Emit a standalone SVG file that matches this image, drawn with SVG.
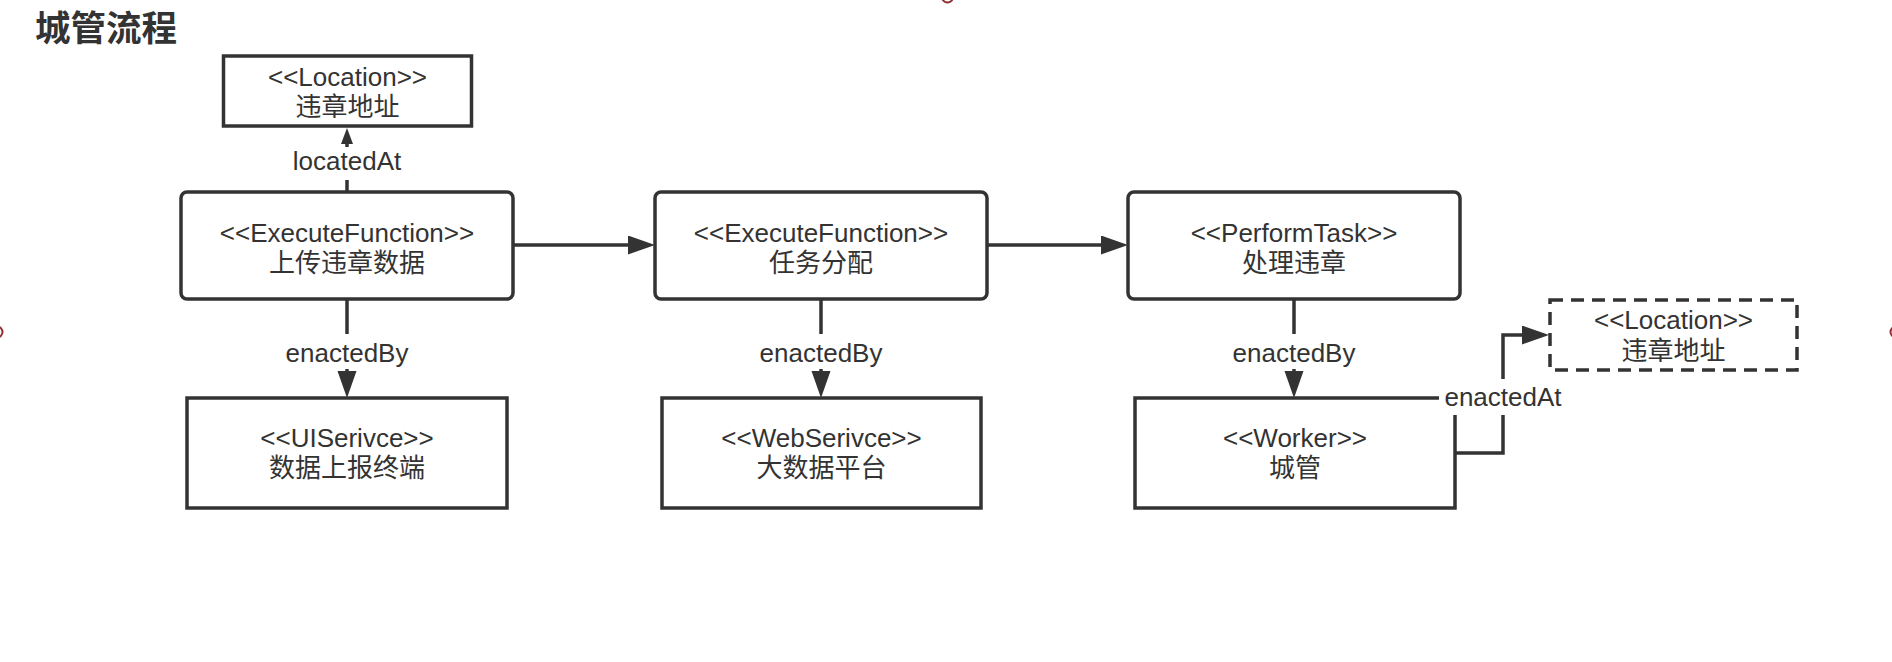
<svg xmlns="http://www.w3.org/2000/svg" width="1892" height="662" viewBox="0 0 1892 662">
  <style>
    .box { fill: #ffffff; stroke: #333333; stroke-width: 3.5; }
    .dash { fill: #ffffff; stroke: #333333; stroke-width: 3.5; stroke-dasharray: 13 8; }
    .t { font-family: "Liberation Sans", "Noto Sans CJK SC", sans-serif; font-size: 26px; fill: #333333; text-anchor: middle; }
    .title { font-family: "Noto Sans CJK SC", "Liberation Sans", sans-serif; font-size: 35.5px; font-weight: bold; fill: #333333; }
    .edge { fill: none; stroke: #333333; stroke-width: 3.5; }
    .lblbg { fill: #ffffff; stroke: none; }
    .mark { fill: none; stroke: #8e2f2f; stroke-width: 2; }
  </style>
  <defs>
    <marker id="arrow" markerUnits="userSpaceOnUse" markerWidth="28" markerHeight="20" refX="0" refY="9.5" orient="auto">
      <path d="M0,0 L27,9.5 L0,19 Z" fill="#333333"/>
    </marker>
    <marker id="arrowSmall" markerUnits="userSpaceOnUse" markerWidth="17" markerHeight="13" refX="0" refY="6" orient="auto">
      <path d="M0,0 L16,6 L0,12 Z" fill="#333333"/>
    </marker>
  </defs>
  <rect width="1892" height="662" fill="#ffffff"/>

  <text class="title" x="35" y="41">城管流程</text>

  <g id="connectors">
    <path class="edge" d="M347,192 V144" marker-end="url(#arrowSmall)"/>
    <path class="edge" d="M513,245 H628" marker-end="url(#arrow)"/>
    <path class="edge" d="M987,245 H1101" marker-end="url(#arrow)"/>
    <path class="edge" d="M347,299 V371" marker-end="url(#arrow)"/>
    <path class="edge" d="M821,299 V371" marker-end="url(#arrow)"/>
    <path class="edge" d="M1294,299 V371" marker-end="url(#arrow)"/>
    <path class="edge" d="M1455,453 H1503 V335 H1522" marker-end="url(#arrow)"/>
  </g>

  <g id="loc1">
    <rect class="box" x="223.5" y="56" width="248" height="70"/>
    <text class="t" x="347.5" y="86">&lt;&lt;Location&gt;&gt;</text>
    <text class="t" x="347.5" y="116">违章地址</text>
  </g>
  <g id="f1">
    <rect class="box" x="181" y="192" width="332" height="107" rx="6"/>
    <text class="t" x="347" y="242">&lt;&lt;ExecuteFunction&gt;&gt;</text>
    <text class="t" x="347" y="272">上传违章数据</text>
  </g>
  <g id="f2">
    <rect class="box" x="655" y="192" width="332" height="107" rx="6"/>
    <text class="t" x="821" y="242">&lt;&lt;ExecuteFunction&gt;&gt;</text>
    <text class="t" x="821" y="272">任务分配</text>
  </g>
  <g id="f3">
    <rect class="box" x="1128" y="192" width="332" height="107" rx="6"/>
    <text class="t" x="1294" y="242">&lt;&lt;PerformTask&gt;&gt;</text>
    <text class="t" x="1294" y="272">处理违章</text>
  </g>
  <g id="ui">
    <rect class="box" x="187" y="398" width="320" height="110"/>
    <text class="t" x="347" y="447">&lt;&lt;UISerivce&gt;&gt;</text>
    <text class="t" x="347" y="477">数据上报终端</text>
  </g>
  <g id="web">
    <rect class="box" x="662" y="398" width="319" height="110"/>
    <text class="t" x="821.5" y="447">&lt;&lt;WebSerivce&gt;&gt;</text>
    <text class="t" x="821.5" y="477">大数据平台</text>
  </g>
  <g id="worker">
    <rect class="box" x="1135" y="398" width="320" height="110"/>
    <text class="t" x="1295" y="447">&lt;&lt;Worker&gt;&gt;</text>
    <text class="t" x="1295" y="477">城管</text>
  </g>
  <g id="loc2">
    <rect class="dash" x="1550" y="300" width="247" height="70"/>
    <text class="t" x="1673.5" y="329">&lt;&lt;Location&gt;&gt;</text>
    <text class="t" x="1673.5" y="360">违章地址</text>
  </g>

  <g id="labels">
    <rect class="lblbg" x="285" y="147" width="125" height="33"/>
    <text class="t" x="347" y="170">locatedAt</text>
    <rect class="lblbg" x="283" y="334" width="128" height="35"/>
    <text class="t" x="347" y="362">enactedBy</text>
    <rect class="lblbg" x="757" y="334" width="128" height="35"/>
    <text class="t" x="821" y="362">enactedBy</text>
    <rect class="lblbg" x="1230" y="334" width="128" height="35"/>
    <text class="t" x="1294" y="362">enactedBy</text>
    <rect class="lblbg" x="1439" y="379" width="128" height="36"/>
    <text class="t" x="1503" y="406">enactedAt</text>
  </g>

  <g id="marks">
    <circle class="mark" cx="947.5" cy="-3" r="5.5"/>
    <circle class="mark" cx="-3" cy="332" r="5.5"/>
    <circle class="mark" cx="1896" cy="332" r="5.5"/>
  </g>
</svg>
